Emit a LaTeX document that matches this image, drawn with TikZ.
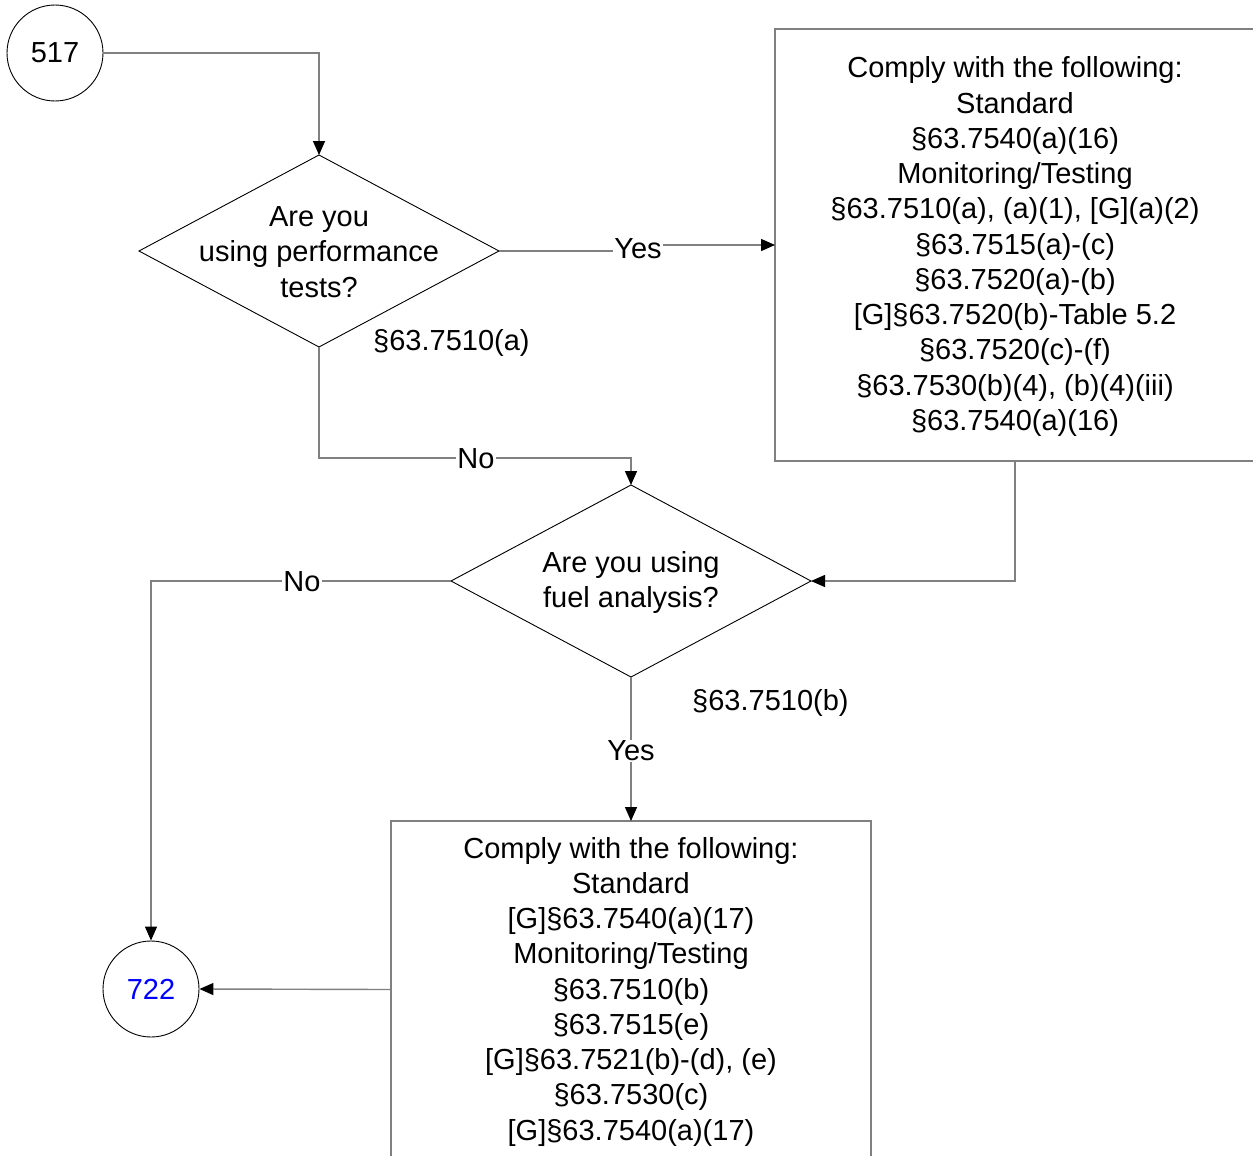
\documentclass[tikz,border=0pt]{standalone}
\usepackage{fontspec}
\setmainfont{Liberation Sans}
\usetikzlibrary{shapes.geometric,arrows.meta}
\definecolor{conn}{RGB}{128,128,128}
\definecolor{numblue}{RGB}{0,0,255}
\tikzset{
  x=1pt,y=-1pt,
  txt/.style={font=\fontsize{29}{35.25}\selectfont, align=center, inner sep=0pt},
  circ/.style={circle, draw=black, line width=0.9pt, minimum size=96pt, inner sep=0pt, font=\fontsize{29}{35}\selectfont},
  dia/.style={diamond, draw=black, line width=0.9pt, minimum width=360pt, minimum height=192pt, inner sep=0pt, outer sep=0pt},
  boxx/.style={rectangle, draw=conn, line width=1.2pt, inner sep=0pt, outer sep=0pt},
  lab/.style={font=\fontsize{29}{35}\selectfont, fill=white, inner sep=1pt},
  ref/.style={font=\fontsize{29}{35}\selectfont, inner sep=0pt},
  link/.style={draw=conn, line width=1.4pt},
  arr/.style={link, -{Triangle[length=14pt,width=12pt,fill=black,color=black]}}
}
\begin{document}
\begin{tikzpicture}
\useasboundingbox (0,0) rectangle (1253,1156);
\clip (0,0) rectangle (1253,1156);
% nodes
\node[circ] (c517) at (55,53) {517};
\node[dia] (d1) at (319,251) {};
\node[txt] (d1t) at (319,252) {Are you\\using performance\\tests?};
\node[boxx, minimum width=480pt, minimum height=432pt] (b1) at (1015,245) {};
\node[txt] (b1t) at (1015,246.5) {Comply with the following:\\Standard\\§63.7540(a)(16)\\Monitoring/Testing\\§63.7510(a), (a)(1), {[G]}(a)(2)\\§63.7515(a)-(c)\\§63.7520(a)-(b)\\{[G]}§63.7520(b)-Table 5.2\\§63.7520(c)-(f)\\§63.7530(b)(4), (b)(4)(iii)\\§63.7540(a)(16)};
\node[dia] (d2) at (631,581) {};
\node[txt] (d2t) at (631,582.5) {Are you using\\fuel analysis?};
\node[boxx, minimum width=480pt, minimum height=337pt] (b2) at (631,989.5) {};
\node[txt] (b2t) at (631,991.5) {Comply with the following:\\Standard\\{[G]}§63.7540(a)(17)\\Monitoring/Testing\\§63.7510(b)\\§63.7515(e)\\{[G]}§63.7521(b)-(d), (e)\\§63.7530(c)\\{[G]}§63.7540(a)(17)};
\node[circ, text=numblue] (c722) at (151,989) {722};
% reference labels
\node[ref, anchor=west] (r1) at (373,343) {§63.7510(a)};
\node[ref, anchor=west] (r2) at (692,703) {§63.7510(b)};
% connectors
\coordinate (yesA) at (638,247);
\draw[arr] (c517.east) -- (c517.east -| d1.north) -- (d1.north);
\draw[arr] (d1.east) -- (d1.east -| yesA) -- (yesA |- b1.west) -- (b1.west);
\node[lab] (yes1) at (638,248.5) {Yes};
\coordinate (noA) at (476,458);
\draw[arr] (d1.south) -- (d1.south |- noA) -- (noA -| d2.north) -- (d2.north);
\node[lab] (no1) at (476,459) {No};
\draw[arr] (b1.south) -- (b1.south |- d2.east) -- (d2.east);
\draw[arr] (d2.west) -- (d2.west -| c722.north) -- (c722.north);
\node[lab] (no2) at (302,582) {No};
\draw[arr] (d2.south) -- (b2.north);
\node[lab] (yes2) at (631,751) {Yes};
\draw[arr] (b2.west) -- (c722.east);
\end{tikzpicture}
\end{document}
